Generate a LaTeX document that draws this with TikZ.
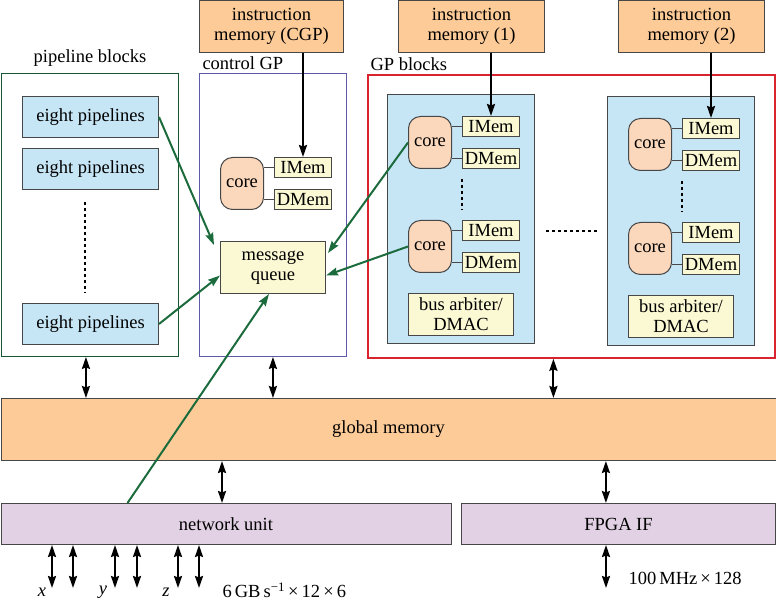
\documentclass[tikz,border=0pt]{standalone}
\usepackage{fontspec}
\setmainfont{Liberation Serif}
\usetikzlibrary{arrows.meta, calc, positioning}

\definecolor{memorange}{HTML}{FCCB98}
\definecolor{pipeblue}{HTML}{C6E6F6}
\definecolor{cream}{HTML}{FBF8D4}
\definecolor{corepeach}{HTML}{FBD8BC}
\definecolor{lavender}{HTML}{E2D1E4}
\definecolor{boxline}{HTML}{474747}
\definecolor{msggreen}{HTML}{1C6B3C}
\definecolor{gpred}{HTML}{D9232E}
\definecolor{ctrlblue}{HTML}{5E5AA8}

\tikzset{
  box/.style={draw=boxline, line width=1pt, inner sep=0pt, anchor=north west, align=center},
  mem/.style={box, fill=memorange, minimum height=52pt},
  pipe/.style={box, fill=pipeblue, minimum width=136pt, minimum height=41pt},
  core/.style={box, fill=corepeach, rounded corners=12pt, minimum width=43pt, minimum height=52pt},
  small/.style={box, fill=cream, minimum width=57pt, minimum height=20pt},
  frame/.style={draw, line width=0.9pt, inner sep=0pt, anchor=north west, minimum height=283pt},
  dots/.style={line width=2pt, dash pattern=on 3pt off 3pt},
  flow/.style={line width=2pt, black},
  msg/.style={line width=2pt, msggreen}
}

\begin{document}
\begin{tikzpicture}[x=1pt, y=-1pt, font=\fontsize{18.5}{20}\selectfont,
  >={Stealth[length=12pt, width=8pt, inset=1.5pt]}]
\useasboundingbox (0,0) rectangle (776,601);
\draw
    node [mem, minimum width=144pt] (imcgp) at (199,0) {instruction\\memory (CGP)}
    node [mem, minimum width=146pt] (imone) at (398,0) {instruction\\memory (1)}
    node [mem, minimum width=146pt] (imtwo) at (618,0) {instruction\\memory (2)}
    node [frame, draw=msggreen!80!black, minimum width=177pt] (pipeframe) at (1,73) {}
    node [frame, draw=ctrlblue, minimum width=147pt] (cgpframe) at (199,73) {}
    node [frame, draw=gpred, line width=1.8pt, minimum width=407pt] (gpframe) at (367,74) {}
    node [above=3pt of pipeframe] (pipelabel) {pipeline blocks}
    node [above right=0pt and 0pt of cgpframe.north west] (cgplabel) {control GP}
    node [above right=0pt and 0pt of gpframe.north west] (gplabel) {GP blocks}
    node [pipe] (pipe1) at (22,96) {eight pipelines}
    node [pipe] (pipe2) at (22,148) {eight pipelines}
    node [pipe] (pipe3) at (22,303) {eight pipelines}
    node [core] (core0) at (220,157) {core}
    node [small, below right=0pt and 10pt of core0.north east] (imem0) {IMem}
    node [small, below right=32pt and 10pt of core0.north east] (dmem0) {DMem}
    node [box, fill=cream, minimum width=105pt, minimum height=52pt] (queue) at (220,241) {message\\queue}
    node [box, fill=pipeblue, minimum width=147pt, minimum height=249pt] (gp1) at (387,94) {}
    node [box, fill=pipeblue, minimum width=147pt, minimum height=249pt] (gp2) at (607,96) {}
    node [core, below right=22pt and 21pt of gp1.north west] (core11) {core}
    node [small, below right=0pt and 10pt of core11.north east] (imem11) {IMem}
    node [small, below right=32pt and 10pt of core11.north east] (dmem11) {DMem}
    node [core, below right=126pt and 21pt of gp1.north west] (core12) {core}
    node [small, below right=0pt and 10pt of core12.north east] (imem12) {IMem}
    node [small, below right=32pt and 10pt of core12.north east] (dmem12) {DMem}
    node [box, fill=cream, minimum width=105pt, minimum height=42pt, below right=199pt and 21pt of gp1.north west] (bus1) {bus arbiter/\\DMAC}
    node [core, below right=22pt and 21pt of gp2.north west] (core21) {core}
    node [small, below right=0pt and 10pt of core21.north east] (imem21) {IMem}
    node [small, below right=32pt and 10pt of core21.north east] (dmem21) {DMem}
    node [core, below right=126pt and 21pt of gp2.north west] (core22) {core}
    node [small, below right=0pt and 10pt of core22.north east] (imem22) {IMem}
    node [small, below right=32pt and 10pt of core22.north east] (dmem22) {DMem}
    node [box, fill=cream, minimum width=105pt, minimum height=42pt, below right=199pt and 21pt of gp2.north west] (bus2) {bus arbiter/\\DMAC}
    node [box, fill=memorange, minimum width=775pt, minimum height=62pt] (glob) at (0.5,398) {global memory}
    node [box, fill=lavender, minimum width=450pt, minimum height=41pt] (net) at (0.5,503) {network unit}
    node [box, fill=lavender, minimum width=314pt, minimum height=41pt] (fpga) at (461,503) {FPGA IF}
    node [font=\fontsize{18.5}{20}\itshape] (xlabel) at (42,592) {x}
    node [font=\fontsize{18.5}{20}\itshape] (ylabel) at (103,592) {y}
    node [font=\fontsize{18.5}{20}\itshape] (zlabel) at (166,592) {z}
    node [anchor=west] (netrate) at (219,590) {6\,GB\,s\textsuperscript{−1}\,×\,12\,×\,6}
    node [anchor=west] (fpgarate) at (625,578) {100\,MHz\,×\,128}
;
% core to local memories
\draw[boxline, line width=1.5pt] (core0.east |- imem0.west) -- (imem0.west);
\draw[boxline, line width=1.5pt] (core0.east |- dmem0.west) -- (dmem0.west);
\draw[boxline, line width=1.5pt] (core11.east |- imem11.west) -- (imem11.west);
\draw[boxline, line width=1.5pt] (core11.east |- dmem11.west) -- (dmem11.west);
\draw[boxline, line width=1.5pt] (core12.east |- imem12.west) -- (imem12.west);
\draw[boxline, line width=1.5pt] (core12.east |- dmem12.west) -- (dmem12.west);
\draw[boxline, line width=1.5pt] (core21.east |- imem21.west) -- (imem21.west);
\draw[boxline, line width=1.5pt] (core21.east |- dmem21.west) -- (dmem21.west);
\draw[boxline, line width=1.5pt] (core22.east |- imem22.west) -- (imem22.west);
\draw[boxline, line width=1.5pt] (core22.east |- dmem22.west) -- (dmem22.west);
% dots
\draw[dots, shorten <=12pt, shorten >=10pt] ([xshift=-6pt]pipe2.south) -- ([xshift=-6pt]pipe3.north);
\draw[dots, shorten <=10pt, shorten >=10pt] (dmem11.south west) -- (imem12.north west);
\draw[dots, shorten <=10pt, shorten >=10pt] (dmem21.south west) -- (imem22.north west);
\draw[dots, shorten <=11pt, shorten >=10pt] ([yshift=-12pt]gp1.east) -- ([yshift=-12pt]gp1.east -| gp2.west);
% instruction memories
\draw[->, flow] (imcgp.south -| imem0.north) -- (imem0.north);
\draw[->, flow] (imone.south -| imem11.north) -- (imem11.north);
\draw[->, flow] (imtwo.south -| imem21.north) -- (imem21.north);
% global memory
\draw[<->, flow] ([xshift=-4pt]pipeframe.south) -- ([xshift=-4pt]pipeframe.south |- glob.north);
\draw[<->, flow] (cgpframe.south) -- (cgpframe.south |- glob.north);
\draw[<->, flow] ($(gpframe.south west)!0.456!(gpframe.south east)$) coordinate (gpport) -- (gpport |- glob.north);
\draw[<->, flow] ([xshift=-4pt]net.north) -- ([xshift=-4pt]net.north |- glob.south);
\draw[<->, flow] ($(fpga.north west)!0.46!(fpga.north east)$) coordinate (fpgaport) -- (fpgaport |- glob.south);
% external links
\foreach \x [count=\i] in {52,73,115,137,178,199} {
  \coordinate (link\i) at (\x,588);
  \draw[<->, flow] (link\i |- net.south) -- (link\i);
}
\coordinate (fpgalink) at (606,588);
\draw[<->, flow] (fpgalink |- fpga.south) -- (fpgalink);
% messages
\draw[->, msg] (pipe1.east) -- ([xshift=-6pt, yshift=-4pt]queue.north west);
\draw[->, msg] (pipe3.east) -- ([yshift=-8pt]queue.west);
\draw[->, msg] (core11.west) -- ([xshift=2pt, yshift=-12pt]queue.north east);
\draw[->, msg] (core12.west) -- ([yshift=-8pt]queue.east);
\draw[->, msg] ([xshift=127pt]net.north west) -- ([xshift=-4pt]queue.south);
\end{tikzpicture}
\end{document}
